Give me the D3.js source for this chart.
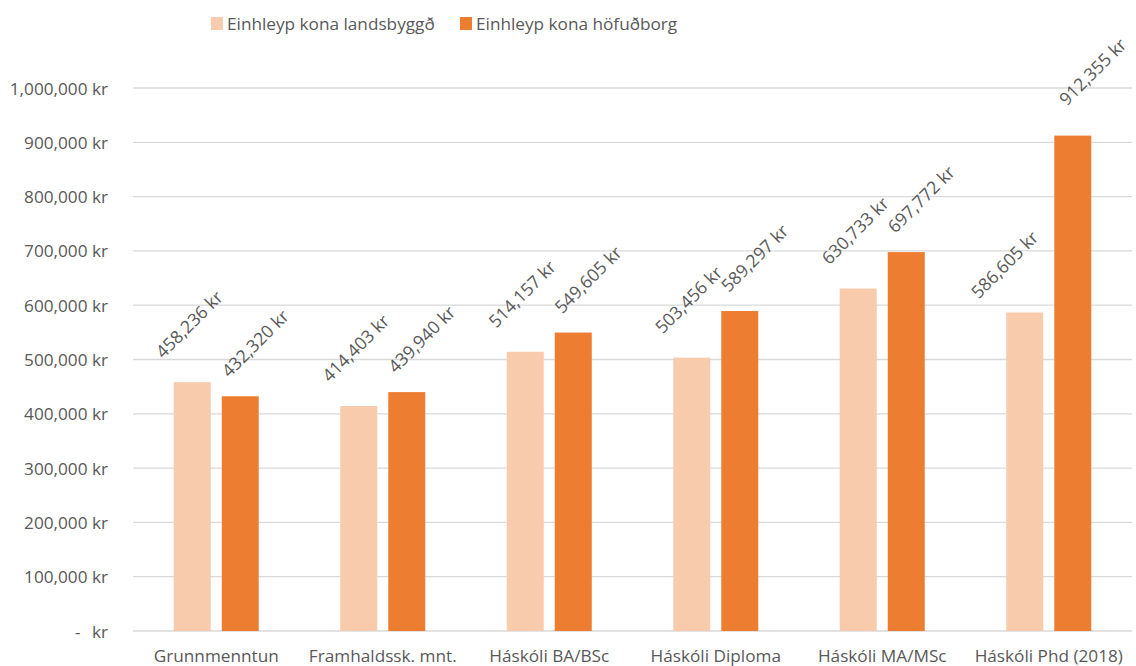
<!DOCTYPE html>
<html>
<head>
<meta charset="utf-8">
<script src="https://cdn.jsdelivr.net/npm/d3@7"></script>
<style>
  html, body { margin: 0; padding: 0; background: #fff; }
  svg text { font-family: "Open Sans", "Noto Sans", sans-serif; fill: #595959; }
</style>
</head>
<body>
<svg id="chart" width="1136" height="666"></svg>
<script>
const categories = ["Grunnmenntun", "Framhaldssk. mnt.", "Háskóli BA/BSc", "Háskóli Diploma", "Háskóli MA/MSc", "Háskóli Phd (2018)"];
const seriesNames = ["Einhleyp kona landsbyggð", "Einhleyp kona höfuðborg"];
const landsbyggd = [458236, 414403, 514157, 503456, 630733, 586605];
const hofudborg = [432320, 439940, 549605, 589297, 697772, 912355];
const yTicks = [0, 100000, 200000, 300000, 400000, 500000, 600000, 700000, 800000, 900000, 1000000];
const colors = ["#F8CBAD", "#ED7D31"];

const seriesValues = [landsbyggd, hofudborg];
const svg = d3.select("#chart");
const fmt = d3.format(",");
const FS = 17.2;

const plotLeft = 133, plotRight = 1132, plotTop = 88, plotBottom = 631;

const y = d3.scaleLinear().domain([0, 1000000]).range([plotBottom, plotTop]);
const x0 = d3.scaleBand().domain(categories).range([plotLeft, plotRight]).padding(0);
const groupW = 85;
const x1 = d3.scaleBand().domain(seriesNames).range([0, groupW]).paddingInner(0.23).paddingOuter(0);
const groupOff = (x0.bandwidth() - groupW) / 2;

// gridlines
svg.append("g").selectAll("line").data(yTicks).join("line")
  .attr("x1", plotLeft).attr("x2", plotRight)
  .attr("y1", d => y(d)).attr("y2", d => y(d))
  .attr("stroke", "#d9d9d9").attr("stroke-width", 1.3);

// y axis labels
const yAxis = d3.axisLeft(y).tickValues(yTicks).tickSize(0).tickPadding(0)
  .tickFormat(d => d === 0 ? "-" : fmt(d) + " kr");
const yg = svg.append("g").attr("transform", `translate(108,0)`).call(yAxis);
yg.select(".domain").remove();
yg.selectAll("text").attr("font-size", FS).attr("fill", "#595959")
  .attr("font-family", "Open Sans").attr("dy", "0.35em");
yg.selectAll(".tick").filter(d => d === 0).select("text")
  .attr("text-anchor", "start").attr("x", -33)
  .each(function() {
    d3.select(this.parentNode).append("text").attr("x", 0).attr("dy", "0.35em")
      .attr("text-anchor", "end").attr("font-size", FS).attr("fill", "#595959").text("kr");
  });

// bars
const rows = categories.map((c, i) => ({ cat: c, vals: seriesValues.map((s, k) => ({ name: seriesNames[k], k, v: s[i], i })) }));

const groups = svg.append("g").selectAll("g").data(rows).join("g")
  .attr("transform", d => `translate(${x0(d.cat) + groupOff},0)`);

groups.selectAll("rect").data(d => d.vals).join("rect")
  .attr("x", d => x1(d.name))
  .attr("width", x1.bandwidth())
  .attr("y", d => y(d.v))
  .attr("height", d => y(0) - y(d.v))
  .attr("fill", d => colors[d.k]);

// data labels
const baseOff = [[-29, -23], [-11, -18]];
const special = { "5-0": [-46, -13], "5-1": [-6, -29] };
groups.selectAll("text.lbl").data(d => d.vals).join("text")
  .attr("class", "lbl")
  .attr("font-size", 17.6)
  .attr("transform", d => {
    const off = special[d.i + "-" + d.k] || baseOff[d.k];
    const cx = x1(d.name) + x1.bandwidth() / 2 + off[0];
    const cy = y(d.v) + off[1];
    return `translate(${cx},${cy}) rotate(-45)`;
  })
  .text(d => fmt(d.v) + " kr");

// x axis labels
const xAxis = d3.axisBottom(x0).tickSize(0).tickPadding(0);
const xg = svg.append("g").attr("transform", `translate(0,${plotBottom})`).call(xAxis);
xg.select(".domain").remove();
xg.selectAll("text").attr("font-size", FS).attr("fill", "#595959")
  .attr("font-family", "Open Sans").attr("dy", null).attr("y", 31);

// legend
const legendX = [211, 460];
const lg = svg.append("g").selectAll("g").data(seriesNames).join("g")
  .attr("transform", (d, i) => `translate(${legendX[i]},0)`);
lg.append("rect").attr("x", 0).attr("y", 17).attr("width", 12).attr("height", 13)
  .attr("fill", (d, i) => colors[i]);
lg.append("text").attr("x", 16).attr("y", 30).attr("font-size", FS).text(d => d);
</script>
</body>
</html>
